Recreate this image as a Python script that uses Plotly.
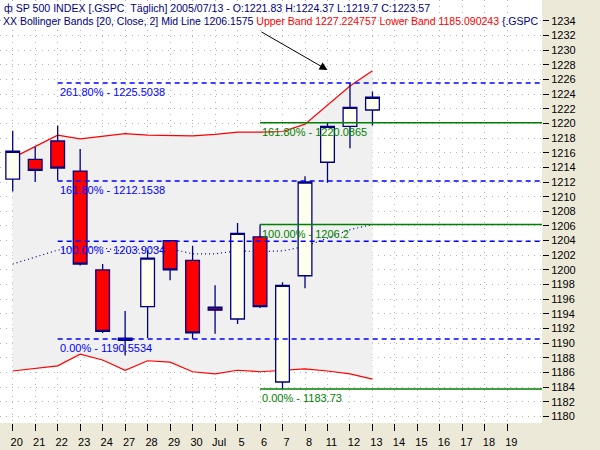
import plotly.graph_objects as go

# x axis labels (trading days, incl. empty future days)
day_labels = ["20", "21", "22", "23", "24", "27", "28", "29", "30", "Jul", "5", "6",
              "7", "8", "11", "12", "13", "14", "15", "16", "17", "18", "19"]

# OHLC (20 Jun .. 13 Jul 2005)
opens = [1212.4, 1215.1, 1217.6, 1213.5, 1200.0, 1190.4, 1195.0, 1204.0, 1201.3,
         1194.9, 1193.3, 1204.5, 1184.7, 1199.2, 1214.7, 1219.6, 1221.83]
highs = [1219.0, 1216.8, 1219.7, 1216.5, 1200.8, 1194.4, 1202.7, 1204.0, 1203.3,
         1197.9, 1206.4, 1206.2, 1198.3, 1212.8, 1220.1, 1225.6, 1224.37]
lows = [1210.7, 1212.0, 1212.2, 1200.6, 1191.4, 1188.3, 1190.7, 1198.6, 1190.6,
        1191.3, 1192.6, 1194.8, 1183.73, 1197.5, 1211.9, 1216.6, 1219.7]
closes = [1216.2, 1213.6, 1213.9, 1200.8, 1191.6, 1190.7, 1201.6, 1200.0, 1191.4,
          1194.5, 1205.0, 1195.0, 1197.9, 1212.0, 1219.6, 1222.2, 1223.57]

# Bollinger bands (20, close, 2)
upper_band = [1215.3, 1216.9, 1218.4, 1217.9, 1218.3, 1218.6, 1218.4, 1218.3, 1218.3,
              1218.5, 1218.8, 1218.8, 1218.9, 1219.9, 1222.5, 1225.1, 1227.2]
lower_band = [1186.2, 1186.5, 1186.9, 1188.5, 1187.7, 1186.3, 1187.6, 1187.4, 1186.1,
              1185.8, 1186.3, 1186.1, 1186.3, 1186.5, 1186.2, 1185.8, 1185.1]
mid_line = [1200.8, 1201.7, 1202.7, 1203.2, 1203.0, 1202.5, 1203.0, 1202.9, 1202.2,
            1202.2, 1202.6, 1202.5, 1202.6, 1203.2, 1204.4, 1205.5, 1206.2]

# y axis tick labels
price_ticks = list(range(1180, 1236, 2))

# Fibonacci levels
blue_fib_pct = ["0.00%", "100.00%", "161.80%", "261.80%"]
blue_fib_val = ["1190.5534", "1203.9034", "1212.1538", "1225.5038"]
blue_fib_start = 2
green_fib_pct = ["0.00%", "100.00%", "161.80%"]
green_fib_val = ["1183.73", "1206.2", "1220.0865"]
green_fib_start = 11

x_range = [-0.565, 23.54]
y_range = [1179.1, 1236.85]

FONT = "Arial, Liberation Sans, sans-serif"
NAVY = "#000080"

xs = list(range(len(closes)))

fig = go.Figure()

# band fill + lines on base axes
fig.add_trace(go.Scatter(x=xs, y=lower_band, mode="lines", line=dict(width=0),
                         showlegend=False, hoverinfo="skip"))
fig.add_trace(go.Scatter(x=xs, y=upper_band, mode="lines", line=dict(width=0),
                         fill="tonexty", fillcolor="#F0F0F0",
                         showlegend=False, hoverinfo="skip"))
fig.add_trace(go.Scatter(x=xs, y=mid_line, mode="lines",
                         line=dict(color=NAVY, width=1.2, dash="1px,3px"),
                         showlegend=False))
fig.add_trace(go.Scatter(x=xs, y=upper_band, mode="lines",
                         line=dict(color="#FF0000", width=1.2), showlegend=False))
fig.add_trace(go.Scatter(x=xs, y=lower_band, mode="lines",
                         line=dict(color="#FF0000", width=1.2), showlegend=False))

# candles on an overlaying pair of axes so they sit above the band fill
fig.add_trace(go.Candlestick(
    x=xs, open=opens, high=highs, low=lows, close=closes,
    increasing=dict(fillcolor="#FFFFF0", line=dict(color=NAVY, width=1.3)),
    decreasing=dict(fillcolor="#FF0000", line=dict(color=NAVY, width=1.3)),
    whiskerwidth=0, xaxis="x2", yaxis="y2", showlegend=False,
))

shapes = []
annotations = []

for pct, val in zip(blue_fib_pct, blue_fib_val):
    shapes.append(dict(type="line", xref="x", yref="y", x0=blue_fib_start, x1=x_range[1],
                       y0=float(val), y1=float(val), layer="above",
                       line=dict(color="#0000FF", width=1.5, dash="5px,4px")))
    annotations.append(dict(x=blue_fib_start, y=float(val), xref="x", yref="y",
                            text=f"{pct} - {val}", showarrow=False,
                            xanchor="left", yanchor="top", yshift=-1,
                            font=dict(family=FONT, size=11, color="#0000FF")))

for pct, val in zip(green_fib_pct, green_fib_val):
    shapes.append(dict(type="line", xref="x", yref="y", x0=green_fib_start, x1=x_range[1],
                       y0=float(val), y1=float(val), layer="above",
                       line=dict(color="#008000", width=1.5)))
    annotations.append(dict(x=green_fib_start, y=float(val), xref="x", yref="y",
                            text=f"{pct} - {val}", showarrow=False,
                            xanchor="left", yanchor="top", yshift=-1,
                            font=dict(family=FONT, size=11, color="#008000")))

# arrow pointing at the upper band breakout
annotations.append(dict(x=14, y=1227.3, ax=11, ay=1232.6, xref="x", yref="y",
                        axref="x", ayref="y", text="", showarrow=True,
                        arrowhead=2, arrowsize=1.6, arrowwidth=1, arrowcolor="black"))

# header lines
annotations.append(dict(
    x=0.004, y=1, xref="paper", yref="paper", xanchor="left", yanchor="top",
    yshift=0, showarrow=False, align="left",
    text="ф SP 500 INDEX [.GSPC \u00a0Täglich] 2005/07/13 - O:1221.83 H:1224.37 L:1219.7 C:1223.57",
    font=dict(family=FONT, size=10.6, color=NAVY)))
annotations.append(dict(
    x=0.002, y=1, xref="paper", yref="paper", xanchor="left", yanchor="top",
    yshift=-13, showarrow=False, align="left",
    text=("XX Bollinger Bands [20, Close, 2] Mid Line 1206.1575 "
          "<span style='color:#FF0000'>Upper Band 1227.224757 Lower Band 1185.090243</span>"
          " {.GSPC"),
    font=dict(family=FONT, size=10.5, color=NAVY)))

grid = dict(showgrid=True, gridcolor="#B4B4B4", gridwidth=1, griddash="1px,5px",
            zeroline=False, showline=False, automargin=False)

fig.update_layout(
    width=600, height=450,
    margin=dict(l=0, r=58, t=0, b=27, autoexpand=False),
    paper_bgcolor="#ECE9D8",
    plot_bgcolor="white",
    showlegend=False,
    boxgap=0.39,
    boxgroupgap=0,
    shapes=shapes,
    annotations=annotations,
    font=dict(family=FONT, size=11, color="black"),
    xaxis=dict(range=x_range, tickmode="array", tickvals=list(range(len(day_labels))),
               ticktext=day_labels, ticks="outside", ticklen=7, tickcolor="black",
               ticklabelshift=4, ticklabelstandoff=2,
               tickfont=dict(size=11, color="black"),
               rangeslider=dict(visible=False), **grid),
    yaxis=dict(range=y_range, side="right", tickmode="array", tickvals=price_ticks,
               ticks="outside", ticklen=6, tickcolor="black",
               tickfont=dict(size=11, color="black"), **grid),
    xaxis2=dict(range=x_range, overlaying="x", visible=False,
                rangeslider=dict(visible=False)),
    yaxis2=dict(range=y_range, overlaying="y", visible=False, side="right"),
)

# drop the default page margin so the figure sits at the window's corner
fig.write_html("out.html", config={"displayModeBar": False},
               post_script="document.body.style.margin='0';")
